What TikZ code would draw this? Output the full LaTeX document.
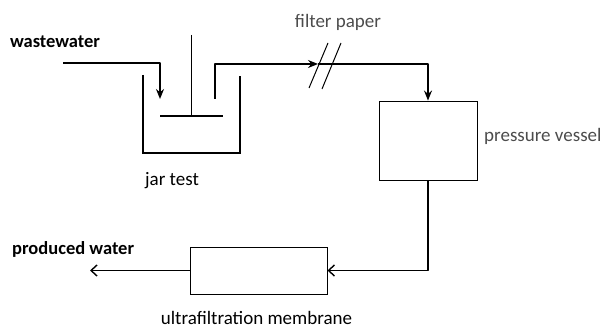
\documentclass[tikz,border=0pt]{standalone}
\usepackage{fontspec}
\setmainfont{Carlito}
\usetikzlibrary{arrows.meta}
\tikzset{
  flow/.style={line width=1.4pt, line join=round},
  arr/.style={flow, -{Stealth[length=10pt,width=8pt]}},
  oarr/.style={flow, -{Straight Barb[length=6pt,width=11pt,line width=1.4pt]}},
  unit/.style={draw, line width=0.9pt, inner sep=0pt},
  wall/.style={line width=1.4pt},
  boldlab/.style={font=\fontsize{18.5}{20}\selectfont\bfseries, inner sep=0pt},
  lab/.style={font=\fontsize{19}{21}\selectfont, inner sep=0pt},
  greylab/.style={lab, text=black!70},
  slash/.style={line width=1pt}
}
\begin{document}
\begin{tikzpicture}[x=1pt,y=-1pt]
\useasboundingbox (0,0) rectangle (606,331);
% jar
\draw[wall] (143,75) -- (143,153) -- (240,153) -- (240,76);
\coordinate (stirtop) at (191,35);
\coordinate (stirbot) at (191,116);
\draw[line width=1pt] (stirtop) -- (stirbot);
\coordinate (padl) at (160,116);
\coordinate (padr) at (223,116);
\draw[wall] (padl) -- (padr);
% inlet
\coordinate (inA) at (63,63);
\coordinate (inB) at (160,99);
\draw[arr] (inA) -| (inB);
% units
\node[unit, minimum width=98pt, minimum height=79pt] (vessel) at (428,140.5) {};
\node[unit, minimum width=137pt, minimum height=47pt] (membrane) at (258.5,270.5) {};
% outlet of jar to vessel
\coordinate (outA) at (215,99);
\coordinate (outB) at (215,64);
\coordinate (filt) at (318,64);
\draw[arr] (outA) -- (outB) -- (filt);
\draw[arr] (filt) -| (vessel.north);
\coordinate (s1a) at (309,88); \coordinate (s1b) at (328,43);
\coordinate (s2a) at (322,89); \coordinate (s2b) at (341,43);
\draw[slash] (s1a) -- (s1b);
\draw[slash] (s2a) -- (s2b);
% vessel to membrane
\draw[oarr] (vessel.south) |- (membrane.east);
% produced water
\coordinate (prod) at (90,270.5);
\draw[oarr] (membrane.west) -- (prod);
% labels
\node[boldlab] (lwaste) at (55,42) {wastewater};
\node[greylab] (lfilter) at (338,22) {filter paper};
\node[greylab, anchor=west] (lvessel) at (484,136) {pressure vessel};
\node[lab] (ljar) at (172,181) {jar test};
\node[boldlab, anchor=west] (lprod) at (12,249) {produced water};
\node[lab] (lmem) at (256.5,318) {ultrafiltration membrane};
\end{tikzpicture}
\end{document}
